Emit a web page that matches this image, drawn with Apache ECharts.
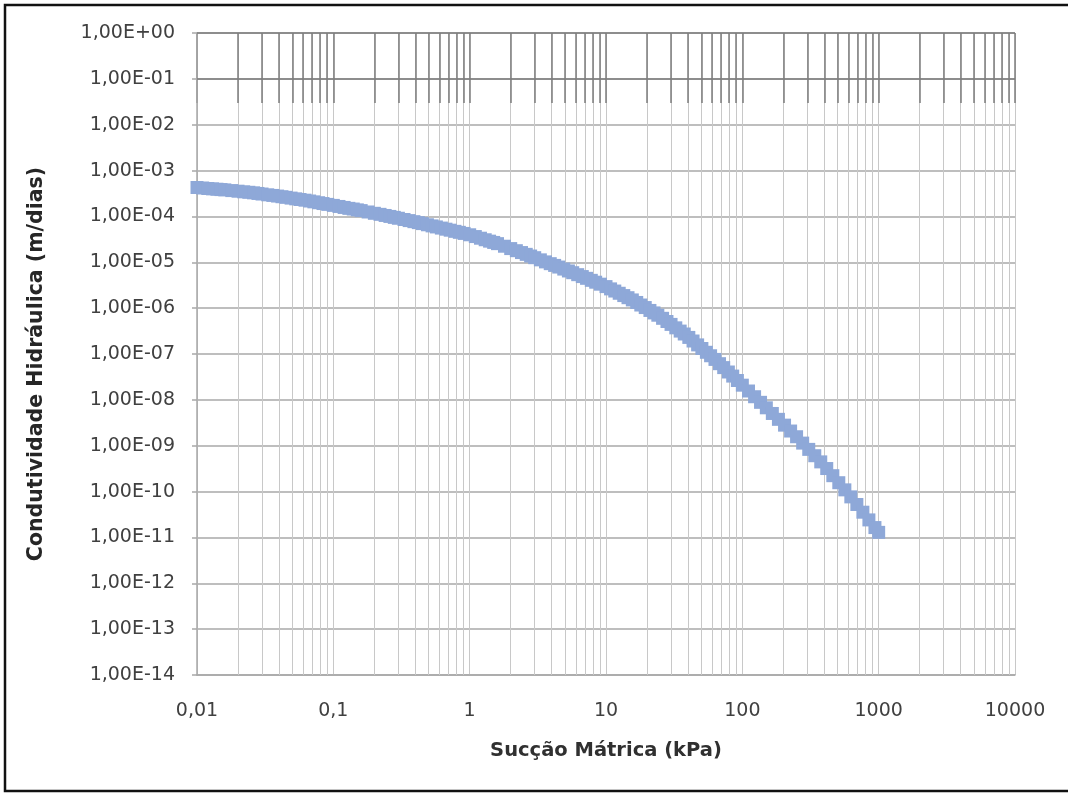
<!DOCTYPE html>
<html>
<head>
<meta charset="utf-8">
<script src="https://cdn.jsdelivr.net/npm/echarts@6/dist/echarts.min.js"></script>
<style>
  html, body { margin: 0; padding: 0; background: #ffffff; }
  #chart { width: 1068px; height: 796px; }
</style>
</head>
<body>
<div id="chart"></div>
<script>
// Matric suction (kPa)
const suction = [
  0.010, 0.011, 0.012, 0.013, 0.014, 0.015, 0.016, 0.018, 0.020, 0.022, 0.024, 0.026, 0.028, 0.030,
  0.033, 0.036, 0.039, 0.042, 0.045, 0.049, 0.053, 0.057, 0.062, 0.067, 0.072, 0.078, 0.084, 0.091,
  0.10, 0.11, 0.12, 0.13, 0.14, 0.15, 0.16, 0.18, 0.20, 0.22, 0.24, 0.26, 0.28, 0.30,
  0.33, 0.36, 0.39, 0.42, 0.45, 0.49, 0.53, 0.57, 0.62, 0.67, 0.72, 0.78, 0.84, 0.91,
  1.0, 1.1, 1.2, 1.3, 1.4, 1.5, 1.6, 1.8, 2.0, 2.2, 2.4, 2.6, 2.8, 3.0,
  3.3, 3.6, 3.9, 4.2, 4.5, 4.9, 5.3, 5.7, 6.2, 6.7, 7.2, 7.8, 8.4, 9.1,
  10, 10.8, 11.6, 12.5, 13.5, 14.5, 15.6, 16.8, 18, 19.4, 21, 22.5, 24, 26, 28, 30,
  32.5, 35, 37.5, 40.5, 43.5, 47, 50.5, 54.5, 58.5, 63, 68, 73, 79, 85, 92,
  100, 111, 123, 136, 150, 166, 184, 204, 226, 250, 277, 307,
  340, 376, 416, 461, 510, 565, 625, 692, 766, 848, 939, 1000
];
// Hydraulic conductivity (m/dias)
const conductivity = [
  4.27e-4, 4.17e-4, 4.07e-4, 3.99e-4, 3.92e-4, 3.85e-4, 3.79e-4, 3.66e-4, 3.55e-4, 3.44e-4, 3.36e-4, 3.27e-4, 3.17e-4, 3.08e-4,
  2.96e-4, 2.87e-4, 2.78e-4, 2.69e-4, 2.61e-4, 2.51e-4, 2.42e-4, 2.34e-4, 2.26e-4, 2.17e-4, 2.08e-4, 1.99e-4, 1.91e-4, 1.83e-4,
  1.74e-4, 1.65e-4, 1.57e-4, 1.50e-4, 1.45e-4, 1.39e-4, 1.34e-4, 1.25e-4, 1.17e-4, 1.11e-4, 1.05e-4, 1.00e-4, 9.53e-5, 9.12e-5,
  8.57e-5, 8.11e-5, 7.69e-5, 7.33e-5, 6.98e-5, 6.58e-5, 6.22e-5, 5.90e-5, 5.57e-5, 5.27e-5, 5.01e-5, 4.73e-5, 4.50e-5, 4.26e-5,
  3.98e-5, 3.64e-5, 3.35e-5, 3.10e-5, 2.89e-5, 2.71e-5, 2.55e-5, 2.24e-5, 1.99e-5, 1.79e-5, 1.63e-5, 1.49e-5, 1.37e-5, 1.26e-5,
  1.13e-5, 1.02e-5, 9.33e-6, 8.55e-6, 7.87e-6, 7.11e-6, 6.47e-6, 5.93e-6, 5.37e-6, 4.88e-6, 4.47e-6, 4.04e-6, 3.68e-6, 3.33e-6,
  2.95e-6, 2.63e-6, 2.36e-6, 2.11e-6, 1.88e-6, 1.69e-6, 1.51e-6, 1.33e-6, 1.17e-6, 1.03e-6, 8.91e-7, 7.87e-7, 7.01e-7, 6.00e-7, 5.12e-7, 4.42e-7,
  3.72e-7, 3.16e-7, 2.73e-7, 2.30e-7, 1.92e-7, 1.58e-7, 1.32e-7, 1.09e-7, 9.16e-8, 7.62e-8, 6.15e-8, 5.05e-8, 4.05e-8, 3.30e-8, 2.64e-8,
  2.09e-8, 1.56e-8, 1.17e-8, 8.83e-9, 6.71e-9, 5.05e-9, 3.76e-9, 2.81e-9, 2.09e-9, 1.57e-9, 1.14e-9, 8.32e-10,
  6.05e-10, 4.44e-10, 3.18e-10, 2.22e-10, 1.56e-10, 1.09e-10, 7.66e-11, 5.22e-11, 3.55e-11, 2.41e-11, 1.64e-11, 1.29e-11
];
const xTickLabels = ['0,01', '0,1', '1', '10', '100', '1000', '10000'];
const yTickLabels = [
  '1,00E-14', '1,00E-13', '1,00E-12', '1,00E-11', '1,00E-10', '1,00E-09', '1,00E-08',
  '1,00E-07', '1,00E-06', '1,00E-05', '1,00E-04', '1,00E-03', '1,00E-02', '1,00E-01', '1,00E+00'
];
// minor vertical gridline values (2..9 within each decade)
const xMinorGrid = [
  0.02, 0.03, 0.04, 0.05, 0.06, 0.07, 0.08, 0.09,
  0.2, 0.3, 0.4, 0.5, 0.6, 0.7, 0.8, 0.9,
  2, 3, 4, 5, 6, 7, 8, 9,
  20, 30, 40, 50, 60, 70, 80, 90,
  200, 300, 400, 500, 600, 700, 800, 900,
  2000, 3000, 4000, 5000, 6000, 7000, 8000, 9000
];
// darker horizontal gridlines at the top of the reference picture
const yDarkGrid = [1, 0.1];
const xTitle = 'Sucção Mátrica (kPa)';
const yTitle = 'Condutividade Hidráulica (m/dias)';

const points = suction.map((s, i) => [s, conductivity[i]]);
const labelFont = 'DejaVu Sans';
const darkLine = '#7c7c7c';

const chart = echarts.init(document.getElementById('chart'), null, { renderer: 'canvas' });
chart.setOption({
  animation: false,
  backgroundColor: '#ffffff',
  grid: [
    { left: 197, right: 53, top: 33, bottom: 121, outerBoundsMode: 'none', containLabel: false },
    { left: 197, right: 53, top: 33, height: 70, outerBoundsMode: 'none', containLabel: false }
  ],
  graphic: [{
    type: 'rect',
    shape: { x: 5, y: 5, width: 1080, height: 786 },
    style: { fill: 'none', stroke: '#111111', lineWidth: 2.5 },
    silent: true, z: 100
  }],
  xAxis: [{
    type: 'log', logBase: 10, min: 0.01, max: 10000, interval: 1, gridIndex: 0,
    name: xTitle, nameLocation: 'middle', nameGap: 66,
    nameTextStyle: { fontFamily: labelFont, fontSize: 19.5, fontWeight: 'bold', color: '#303030' },
    axisLine: { show: true, lineStyle: { color: '#a8a8a8', width: 1.5 } },
    axisTick: { show: false },
    axisLabel: {
      margin: 27, fontFamily: labelFont, fontSize: 19, color: '#404040',
      formatter: v => xTickLabels[Math.round(Math.log10(v)) + 2]
    },
    splitLine: { show: true, lineStyle: { color: '#c8c8c8', width: 1 } }
  }, {
    type: 'log', logBase: 10, min: 0.01, max: 10000, interval: 1, gridIndex: 1,
    axisLine: { show: false }, axisTick: { show: false }, axisLabel: { show: false },
    splitLine: { show: true, lineStyle: { color: darkLine, width: 1.5 } }
  }],
  yAxis: [{
    type: 'log', logBase: 10, min: 1e-14, max: 1, interval: 1, gridIndex: 0,
    name: yTitle, nameLocation: 'middle', nameGap: 150,
    nameTextStyle: { fontFamily: labelFont, fontSize: 20.5, fontWeight: 'bold', color: '#262626', padding: [0, 20, 0, 0] },
    axisLine: { show: true, lineStyle: { color: '#a8a8a8', width: 1.5 } },
    axisTick: { show: true, length: 5, lineStyle: { color: '#a8a8a8', width: 1.5 } },
    axisLabel: {
      margin: 22, fontFamily: labelFont, fontSize: 19, color: '#404040',
      formatter: v => yTickLabels[Math.round(Math.log10(v)) + 14]
    },
    splitLine: { show: true, lineStyle: { color: '#a8a8a8', width: 1.5 } }
  }, {
    type: 'value', min: 0, max: 1, gridIndex: 1, show: false,
    splitLine: { show: false }
  }],
  series: [{
    type: 'scatter',
    xAxisIndex: 0, yAxisIndex: 0,
    data: points,
    symbol: 'rect',
    symbolSize: 13,
    itemStyle: { color: '#8ea8d8', opacity: 1 },
    z: 5,
    markLine: {
      silent: true,
      symbol: ['none', 'none'],
      label: { show: false },
      lineStyle: { color: '#c8c8c8', width: 1, type: 'solid' },
      emphasis: { disabled: true },
      data: xMinorGrid.map(v => ({ xAxis: v })).concat(
        yDarkGrid.map(v => ({ yAxis: v, lineStyle: { color: darkLine, width: 1.5 } }))
      ),
      z: 1
    }
  }, {
    type: 'scatter',
    xAxisIndex: 1, yAxisIndex: 1,
    data: [],
    silent: true,
    z: 2,
    markLine: {
      silent: true,
      symbol: ['none', 'none'],
      label: { show: false },
      lineStyle: { color: darkLine, width: 1.5, type: 'solid' },
      emphasis: { disabled: true },
      data: xMinorGrid.map(v => ({ xAxis: v })),
      z: 2
    }
  }]
});
</script>
</body>
</html>
